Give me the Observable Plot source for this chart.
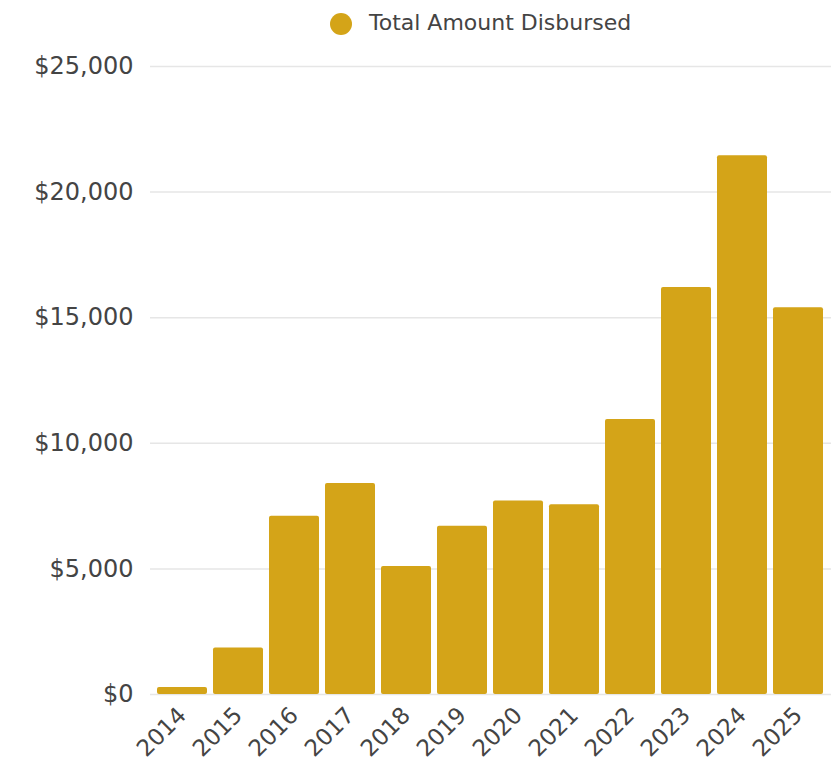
<!DOCTYPE html>
<html>
<head>
<meta charset="utf-8">
<script src="https://cdn.jsdelivr.net/npm/d3@7"></script>
<script src="https://cdn.jsdelivr.net/npm/@observablehq/plot@0.6"></script>
<style>
  body { margin: 0; background: #fff; font-family: "DejaVu Sans", Verdana, sans-serif; }
  #legend { position: relative; height: 40px; width: 833px; }
  #legend .dot { position: absolute; left: 330px; top: 13px; width: 22px; height: 22px; border-radius: 50%; background: #D4A418; }
  #legend .lab { position: absolute; left: 369px; top: 9px; font-size: 22px; color: #444; line-height: 28px; white-space: nowrap; }
</style>
</head>
<body>
<div id="legend"><span class="dot"></span><span class="lab">Total Amount Disbursed</span></div>
<div id="chart"></div>
<script>
const years = ["2014","2015","2016","2017","2018","2019","2020","2021","2022","2023","2024","2025"];
const amounts = [280, 1850, 7100, 8400, 5100, 6700, 7700, 7550, 10950, 16200, 21450, 15400];
const yTicks = [0, 5000, 10000, 15000, 20000, 25000];
const seriesName = "Total Amount Disbursed";

const data = years.map((y, i) => ({year: y, value: amounts[i]}));
const fmt = d3.format(",");

const chart = Plot.plot({
  width: 833,
  height: 728,
  marginTop: 26,
  marginBottom: 74,
  marginLeft: 150,
  marginRight: 2,
  style: { fontFamily: "DejaVu Sans, Verdana, sans-serif", fontSize: "22px", color: "#444", background: "#fff" },
  x: { domain: years, padding: 0.1, paddingOuter: 0.05, label: null },
  y: { domain: [0, 25000], label: null },
  marks: [
    Plot.gridY(yTicks, { stroke: "#e6e6e6", strokeOpacity: 1, strokeWidth: 1.5 }),
    Plot.barY(data, { x: "year", y: "value", fill: "#D4A418", rx: 2 }),
    Plot.axisY(yTicks, { tickSize: 0, tickPadding: 17, tickFormat: d => "$" + fmt(d), fontSize: 24, label: null }),
    Plot.axisX({ tickSize: 0, tickPadding: 17, tickRotate: -45, fontSize: 23, label: null })
  ]
});
document.getElementById("chart").appendChild(chart);
</script>
</body>
</html>
